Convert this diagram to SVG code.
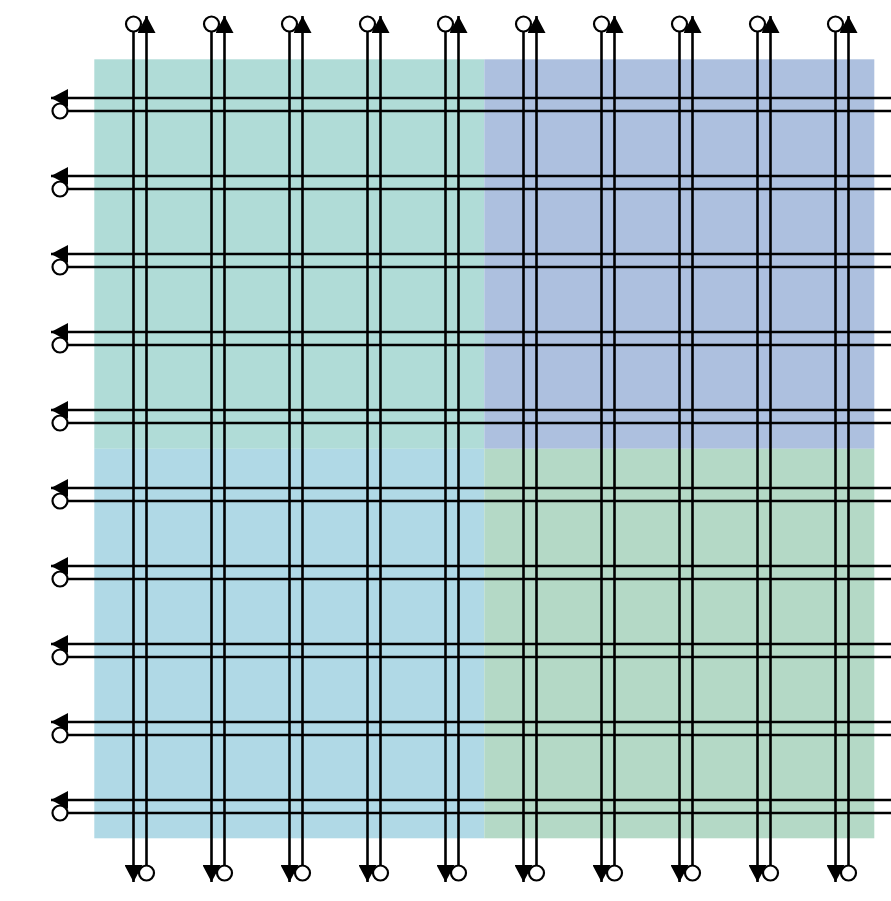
<svg xmlns="http://www.w3.org/2000/svg" xmlns:xlink="http://www.w3.org/1999/xlink" width="891" height="901" viewBox="0 0 891 901">
<style>
.ln{stroke:#000;stroke-width:2.6;fill:none}
.a{marker-end:url(#arr)}
.c{marker-start:url(#circ)}
</style>
<defs>
<marker id="arr" markerUnits="userSpaceOnUse" viewBox="0 0 17 18" markerWidth="17" markerHeight="18" refX="17" refY="9" orient="auto"><path d="M0,0 L17,9 L0,18 z" fill="#000"/></marker>
<marker id="circ" markerUnits="userSpaceOnUse" viewBox="-10 -10 20 20" markerWidth="20" markerHeight="20" refX="0" refY="0" orient="auto"><circle r="7.5" fill="#fff" stroke="#000" stroke-width="2.2"/></marker>
</defs>
<rect width="891" height="901" fill="#fff"/>
<g id="q-top-left"><rect x="94.3" y="59.3" width="390" height="389.5" fill="#b0dcd7"/></g>
<g id="q-top-right"><rect x="484.3" y="59.3" width="390" height="389.5" fill="#adc0df"/></g>
<g id="q-bottom-left"><rect x="94.3" y="448.8" width="390" height="389.5" fill="#b0d9e6"/></g>
<g id="q-bottom-right"><rect x="484.3" y="448.8" width="390" height="389.5" fill="#b4d9c6"/></g>
<g id="connectors" class="ln">
<path class="a" d="M910,98 H51"/><path class="c" d="M60,111 H910"/>
<path class="a" d="M910,176 H51"/><path class="c" d="M60,189 H910"/>
<path class="a" d="M910,254 H51"/><path class="c" d="M60,267 H910"/>
<path class="a" d="M910,332 H51"/><path class="c" d="M60,345 H910"/>
<path class="a" d="M910,410 H51"/><path class="c" d="M60,423 H910"/>
<path class="a" d="M910,488 H51"/><path class="c" d="M60,501 H910"/>
<path class="a" d="M910,566 H51"/><path class="c" d="M60,579 H910"/>
<path class="a" d="M910,644 H51"/><path class="c" d="M60,657 H910"/>
<path class="a" d="M910,722 H51"/><path class="c" d="M60,735 H910"/>
<path class="a" d="M910,800 H51"/><path class="c" d="M60,813 H910"/>
<path class="c a" d="M133.5,24 V882"/><path class="c a" d="M146.5,873 V16"/>
<path class="c a" d="M211.5,24 V882"/><path class="c a" d="M224.5,873 V16"/>
<path class="c a" d="M289.5,24 V882"/><path class="c a" d="M302.5,873 V16"/>
<path class="c a" d="M367.5,24 V882"/><path class="c a" d="M380.5,873 V16"/>
<path class="c a" d="M445.5,24 V882"/><path class="c a" d="M458.5,873 V16"/>
<path class="c a" d="M523.5,24 V882"/><path class="c a" d="M536.5,873 V16"/>
<path class="c a" d="M601.5,24 V882"/><path class="c a" d="M614.5,873 V16"/>
<path class="c a" d="M679.5,24 V882"/><path class="c a" d="M692.5,873 V16"/>
<path class="c a" d="M757.5,24 V882"/><path class="c a" d="M770.5,873 V16"/>
<path class="c a" d="M835.5,24 V882"/><path class="c a" d="M848.5,873 V16"/>
</g>
</svg>
